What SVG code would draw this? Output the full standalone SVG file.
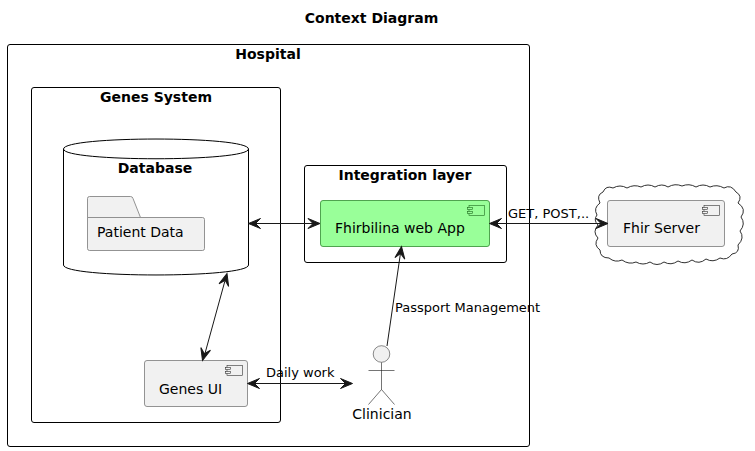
<svg xmlns="http://www.w3.org/2000/svg" width="755" height="451" viewBox="0 0 755 451">
<style>
text{font-family:"DejaVu Sans",sans-serif;font-size:13px;fill:#000}
.t{font-weight:bold;font-size:14px;text-anchor:middle}
.c{text-anchor:middle}
.b{font-size:14px}
.f{fill:none;stroke:#000;stroke-width:1}
.n{fill:#F1F1F1;stroke:#787878;stroke-width:.8}
.g{fill:#99FF99;stroke:#2E8B2E;stroke-width:.8}
.l{fill:none;stroke:#181818;stroke-width:1}
.h{fill:#181818;stroke:#181818;stroke-width:1}
.a{fill:#F1F1F1;stroke:#181818;stroke-width:.5}
.ic{fill:none;stroke:#181818;stroke-width:.5}
.ig{fill:#99FF99;stroke:#1F6B1F;stroke-width:.6}
.in{fill:#F1F1F1;stroke:#333;stroke-width:.6}
</style>
<defs>
<path id="ah" d="M0,0 L-12,-5 L-7,0 L-12,5 Z"/>
</defs>
<text class="t" x="371.500" y="23">Context Diagram</text>
<g id="hospital"><rect class="f" x="7.500" y="44.500" width="522" height="402" rx="2.500"/><text class="t" x="268" y="59">Hospital</text></g>
<g id="genes-system"><rect class="f" x="31.500" y="87.500" width="249" height="335" rx="2.500"/><text class="t" x="156" y="102">Genes System</text></g>
<g id="database"><path class="f" d="M63.500,149 C63.500,135.700 248.500,135.700 248.500,149 V265 C248.500,278.300 63.500,278.300 63.500,265 Z M63.500,149 C63.500,162 248.500,162 248.500,149"/><text class="t" x="155" y="173">Database</text></g>
<g id="patient-data"><path class="n" d="M87.500,217.500 V198.500 Q87.500,196.500 89.500,196.500 H130.500 Q132.500,196.500 133,198.500 L140.500,217.500 H202.500 Q204.500,217.500 204.500,219.500 V248.500 Q204.500,250.500 202.500,250.500 H89.500 Q87.500,250.500 87.500,248.500 Z M87.500,217.500 H140.500"/><text class="b" x="97" y="237">Patient Data</text></g>
<g id="genes-ui"><rect class="n" x="144.500" y="360.500" width="103" height="46" rx="2.500"/><rect class="in" x="227" y="365.500" width="15.500" height="10"/><rect class="in" x="225.500" y="367.500" width="5" height="2"/><rect class="in" x="225.500" y="371.500" width="5" height="2"/><text class="b" x="159" y="394">Genes UI</text></g>
<g id="integration-layer"><rect class="f" x="304.500" y="165.500" width="202" height="97" rx="2.500"/><text class="t" x="405" y="180">Integration layer</text></g>
<g id="fhirbilina"><rect class="g" x="320.500" y="200.500" width="169" height="46" rx="2.500"/><rect class="ig" x="469" y="205.500" width="15.500" height="10"/><rect class="ig" x="467.500" y="207.500" width="5" height="2"/><rect class="ig" x="467.500" y="211.500" width="5" height="2"/><text class="b" x="335" y="233">Fhirbilina web App</text></g>
<g id="cloud"><path style="fill:none;stroke:#181818;stroke-width:.9" d="M603,192 Q606,185 613,188 Q620,184 627,188 Q634,184 641,187 Q648,183 655,187 Q662,183 668,187 Q675,183 682,186 Q689,183 696,187 Q703,183 710,187 Q717,184 724,188 Q731,184 736,192 Q743,196 738,203 Q747,209 741,217 Q746,224 740,231 Q745,238 738,245 Q740,253 732,254 Q727,261 720,258 Q713,263 706,259 Q699,265 692,260 Q685,265 678,261 Q671,266 664,262 Q657,267 650,262 Q643,266 636,262 Q629,265 622,260 Q615,263 609,258 Q600,258 600,250 Q593,245 598,238 Q592,232 598,225 Q593,220 597,215 Q593,208 600,203 Q596,195 603,192 Z"/></g>
<g id="fhir-server"><rect class="n" x="607.500" y="200.500" width="117" height="46" rx="2.500"/><rect class="in" x="704" y="205.500" width="15.500" height="10"/><rect class="in" x="702.500" y="207.500" width="5" height="2"/><rect class="in" x="702.500" y="211.500" width="5" height="2"/><text class="b" x="623" y="233">Fhir Server</text></g>
<g id="clinician"><circle cx="381.500" cy="354" r="8.300" class="a"/><path class="ic" style="stroke-width:.6" d="M381.500,362.500 V389.500 M368.500,370.500 H394.500 M381.500,389.500 L368.500,404.500 M381.500,389.500 L394.500,404.500"/><text class="c b" x="382" y="419">Clinician</text></g>
<g id="connectors">
<path class="l" d="M252,223.500 H316"/><use href="#ah" class="h" transform="translate(248.500,223.500) rotate(180)"/><use href="#ah" class="h" transform="translate(320,223.500)"/>
<path class="l" d="M226,277 L204,357"/><use href="#ah" class="h" transform="translate(227,273.500) rotate(-74.600)"/><use href="#ah" class="h" transform="translate(202.500,360.500) rotate(105.400)"/>
<path class="l" d="M251,383.500 H349"/><use href="#ah" class="h" transform="translate(247.500,383.500) rotate(180)"/><use href="#ah" class="h" transform="translate(352.500,383.500)"/>
<path class="l" d="M387,346 L400.800,251"/><use href="#ah" class="h" transform="translate(401.500,246.500) rotate(-82)"/>
<path class="l" d="M493,223.500 H604"/><use href="#ah" class="h" transform="translate(489.500,223.500) rotate(180)"/><use href="#ah" class="h" transform="translate(608,223.500)"/>
<text x="266" y="377">Daily work</text>
<text x="395" y="312">Passport Management</text>
<text x="508" y="218">GET, POST,..</text>
</g>
</svg>
